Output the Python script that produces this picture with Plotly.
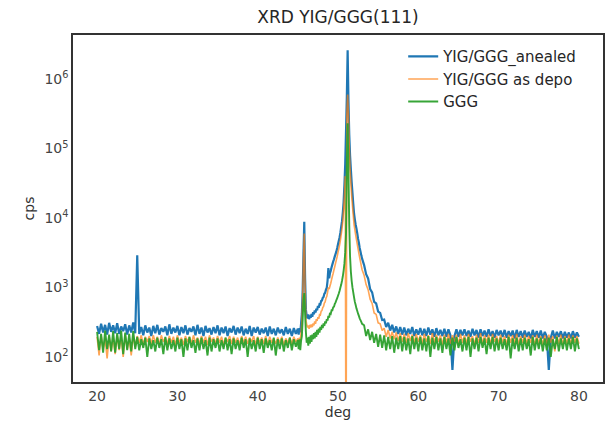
import numpy as np
import plotly.graph_objects as go

# ---- scan grid (deg): background 0.25 deg steps, peak region 0.1 deg steps
deg_bg1 = np.round(np.linspace(20.0, 44.75, 100), 2)
deg_peak = np.round(np.linspace(45.0, 53.0, 81), 2)
deg_bg2 = np.round(np.linspace(53.25, 80.0, 108), 2)
deg = np.concatenate([deg_bg1, deg_peak, deg_bg2])

# ---- YIG/GGG annealed (cps)
anealed_bg1 = [
    280, 215, 300, 225, 290, 210, 310, 230, 285, 220,
    305, 215, 275, 235, 295, 210, 285, 225, 315, 220,
    2900, 215, 270, 205, 285, 225, 265, 200, 280, 220,
    290, 210, 260, 230, 275, 205, 295, 215, 265, 225,
    280, 205, 270, 220, 285, 210, 260, 230, 275, 205,
    290, 215, 265, 200, 280, 225, 260, 210, 270, 220,
    285, 205, 265, 220, 275, 200, 260, 225, 280, 210,
    265, 220, 275, 205, 255, 215, 280, 200, 265, 225,
    270, 210, 255, 220, 265, 200, 275, 215, 255, 205,
    265, 220, 250, 205, 270, 215, 255, 200, 260, 215,
]
anealed_peak = [
    255, 210, 260, 225, 300, 420, 900, 3000, 8800, 1400,
    480, 390, 360, 410, 350, 395, 365, 415, 380, 440,
    410, 465, 435, 495, 470, 540, 510, 575, 570, 640,
    650, 710, 730, 810, 840, 930, 990, 1250, 1900, 1350,
    1600, 1750, 1950, 2150, 2350, 2550, 2800, 3050, 3300, 3700,
    4200, 4700, 5300, 6200, 7500, 9000, 12000, 17000, 30000, 60000,
    180000, 550000, 2600000, 500000, 160000, 80000, 50000, 33000, 23000, 16000,
    11500, 9500, 8000, 7000, 6000, 5000, 4400, 3700, 3300, 2900,
    2600,
]
anealed_bg2 = [
    2100, 1550, 1350, 950, 850, 620, 590, 450, 430, 340,
    345, 270, 310, 240, 290, 225, 275, 215, 270, 210,
    265, 205, 255, 215, 270, 200, 250, 210, 260, 205,
    255, 200, 265, 210, 250, 195, 260, 205, 245, 200,
    255, 195, 250, 205, 65, 200, 250, 195, 245, 205,
    250, 200, 240, 195, 255, 205, 245, 190, 250, 200,
    240, 195, 250, 200, 235, 190, 245, 205, 240, 195,
    245, 190, 235, 200, 240, 185, 245, 195, 235, 190,
    240, 195, 230, 185, 245, 195, 235, 190, 240, 185,
    230, 195, 65, 190, 240, 185, 230, 195, 235, 185,
    230, 190, 225, 185, 235, 190, 225, 195,
]

# ---- YIG/GGG as deposited (cps)
depo_bg1 = [
    195, 105, 205, 130, 185, 95, 200, 120, 190, 110,
    205, 125, 195, 100, 210, 130, 185, 105, 200, 140,
    200, 160, 205, 150, 195, 165, 200, 155, 205, 160,
    195, 150, 205, 165, 190, 155, 200, 160, 195, 150,
    205, 160, 190, 150, 200, 165, 195, 155, 205, 160,
    190, 155, 200, 160, 195, 150, 205, 165, 190, 155,
    200, 160, 195, 150, 190, 165, 200, 155, 195, 160,
    190, 150, 200, 160, 195, 155, 190, 165, 200, 150,
    195, 160, 190, 155, 200, 150, 195, 160, 185, 155,
    190, 160, 195, 150, 185, 160, 190, 155, 195, 165,
]
depo_peak = [
    185, 165, 190, 175, 220, 330, 700, 2500, 6000, 1000,
    350, 290, 265, 285, 255, 290, 265, 295, 270, 305,
    285, 325, 300, 350, 330, 375, 355, 405, 400, 455,
    465, 515, 535, 595, 620, 700, 740, 850, 1000, 950,
    1050, 1150, 1300, 1450, 1600, 1800, 2000, 2250, 2500, 2800,
    3200, 3600, 4100, 4800, 5800, 7000, 9000, 13000, 20000, 40000,
    1, 300000, 600000, 300000, 110000, 50000, 32000, 21000, 15000, 11000,
    8000, 6800, 5700, 4900, 4200, 3600, 3100, 2700, 2350, 2050,
    1800,
]
depo_bg2 = [
    1500, 1100, 930, 680, 590, 430, 410, 310, 300, 240,
    260, 195, 245, 185, 230, 180, 225, 170, 220, 165,
    215, 160, 220, 170, 210, 160, 215, 165, 205, 155,
    215, 165, 205, 155, 220, 160, 210, 165, 205, 150,
    210, 160, 215, 155, 205, 165, 210, 150, 215, 160,
    205, 155, 215, 165, 200, 150, 210, 160, 220, 155,
    205, 160, 210, 150, 215, 165, 200, 155, 210, 160,
    200, 150, 210, 160, 205, 155, 215, 150, 200, 160,
    210, 155, 200, 160, 205, 145, 210, 155, 200, 150,
    205, 155, 210, 160, 200, 120, 205, 155, 210, 150,
    200, 155, 210, 150, 205, 160, 200, 155,
]

# ---- GGG substrate (cps)
ggg_bg1 = [
    230, 125, 215, 115, 240, 130, 210, 120, 235, 115,
    220, 130, 240, 110, 225, 125, 215, 120, 235, 130,
    195, 125, 180, 135, 190, 100, 185, 130, 175, 120,
    190, 135, 180, 110, 195, 125, 185, 130, 175, 120,
    190, 130, 180, 100, 185, 125, 195, 135, 175, 115,
    185, 125, 190, 130, 175, 105, 190, 120, 180, 135,
    185, 120, 175, 130, 190, 125, 180, 110, 185, 130,
    175, 125, 190, 135, 180, 100, 185, 130, 175, 120,
    190, 130, 180, 115, 185, 135, 175, 125, 190, 105,
    180, 130, 185, 120, 175, 135, 190, 125, 180, 140,
]
ggg_peak = [
    175, 130, 180, 125, 170, 200, 350, 650, 830, 420,
    230, 160, 190, 145, 195, 155, 205, 165, 210, 180,
    220, 185, 230, 195, 245, 210, 255, 225, 270, 245,
    290, 260, 305, 280, 325, 305, 350, 335, 390, 370,
    430, 420, 470, 470, 520, 530, 580, 610, 660, 700,
    760, 820, 900, 1000, 1100, 1250, 1450, 1750, 2200, 3200,
    6000, 60000, 230000, 50000, 8000, 2800, 1700, 1250, 1000, 850,
    720, 620, 560, 500, 460, 420, 390, 360, 340, 320,
    300,
]
ggg_bg2 = [
    285, 200, 250, 175, 230, 160, 215, 140, 210, 135,
    205, 125, 195, 130, 200, 115, 190, 130, 200, 120,
    195, 125, 185, 110, 200, 130, 190, 120, 195, 125,
    185, 120, 200, 100, 190, 130, 195, 125, 185, 115,
    195, 130, 185, 105, 190, 125, 195, 135, 180, 120,
    190, 125, 195, 100, 185, 130, 190, 120, 195, 135,
    185, 110, 190, 130, 195, 120, 185, 125, 190, 130,
    180, 125, 195, 95, 185, 130, 190, 120, 185, 125,
    190, 130, 180, 105, 195, 125, 185, 130, 190, 120,
    185, 125, 190, 100, 180, 130, 195, 120, 185, 130,
    190, 125, 185, 130, 195, 120, 185, 130,
]

cps_anealed = anealed_bg1 + anealed_peak + anealed_bg2
cps_depo = depo_bg1 + depo_peak + depo_bg2
cps_ggg = ggg_bg1 + ggg_peak + ggg_bg2

series_names = ["YIG/GGG_anealed", "YIG/GGG as depo", "GGG"]
x_ticks = [20, 30, 40, 50, 60, 70, 80]
y_ticks = [1e2, 1e3, 1e4, 1e5, 1e6]
y_tick_text = ["10<sup>2</sup>", "10<sup>3</sup>", "10<sup>4</sup>", "10<sup>5</sup>", "10<sup>6</sup>"]

FONT = "DejaVu Sans"
TXT = "#333333"

fig = go.Figure()
fig.add_trace(go.Scatter(x=deg, y=cps_anealed, mode="lines", name=series_names[0],
                         line=dict(color="#1f77b4", width=2.2, simplify=False)))
fig.add_trace(go.Scatter(x=deg, y=cps_depo, mode="lines", name=series_names[1],
                         line=dict(color="#ff7f0e", width=1.6, simplify=False), opacity=0.7))
fig.add_trace(go.Scatter(x=deg, y=cps_ggg, mode="lines", name=series_names[2],
                         line=dict(color="#2ca02c", width=1.9, simplify=False), opacity=0.95))

fig.update_layout(
    width=609, height=425,
    margin=dict(l=73, r=6, t=35, b=43, autoexpand=False),
    paper_bgcolor="white", plot_bgcolor="white",
    font=dict(family=FONT, size=13, color=TXT),
    title=dict(text="XRD YIG/GGG(111)", x=(73 + 603) / 2 / 609, xanchor="center",
               y=1 - 17 / 425, yanchor="middle", font=dict(size=17, color="#262626")),
    showlegend=True,
    legend=dict(x=0.623, y=0.985, xanchor="left", yanchor="top",
                bgcolor="rgba(0,0,0,0)", font=dict(size=15, color="#262626"),
                itemwidth=30, tracegroupgap=0),
)
fig.update_xaxes(range=[17, 83], tickvals=x_ticks, ticks="", showgrid=False, zeroline=False,
                 automargin=False,
                 showline=True, mirror=True, linecolor="#333333", linewidth=1.5,
                 tickfont=dict(size=14, color="#444444"),
                 title=dict(text="deg", font=dict(size=14, color="#333333"), standoff=4))
fig.update_yaxes(type="log", range=[1.64, 6.633], tickvals=y_ticks, ticktext=y_tick_text,
                 ticks="", showgrid=False, zeroline=False, automargin=False,
                 showline=True, mirror=True, linecolor="#333333", linewidth=1.5,
                 tickfont=dict(size=14, color="#444444"),
                 title=dict(text="cps", font=dict(size=14, color="#333333"), standoff=6))

fig.write_html("out.html", config={"displayModeBar": False},
               post_script="document.body.style.margin='0';document.body.style.overflow='hidden';")
